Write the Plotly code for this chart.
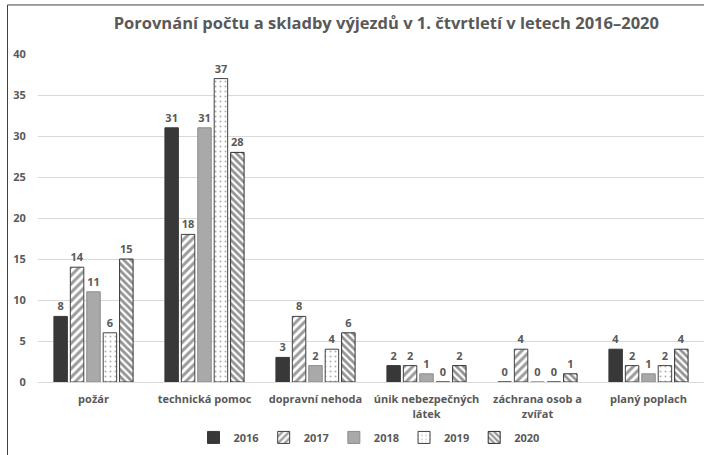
import plotly.graph_objects as go

categories = ["požár", "technická pomoc", "dopravní nehoda", "únik nebezpečných<br>látek",
              "záchrana osob a<br>zvířat", "planý poplach"]
years = ["2016", "2017", "2018", "2019", "2020"]
v2016 = [8, 31, 3, 2, 0, 4]
v2017 = [14, 18, 8, 2, 4, 2]
v2018 = [11, 31, 2, 1, 0, 1]
v2019 = [6, 37, 4, 0, 0, 2]
v2020 = [15, 28, 6, 2, 1, 4]
series = [v2016, v2017, v2018, v2019, v2020]
y_ticks = [0, 5, 10, 15, 20, 25, 30, 35, 40]

styles = [
    dict(color="#383838", line="#383838", pattern=dict(shape="")),
    dict(color="white", line="#404040", pattern=dict(shape="/", fgcolor="#3a3a3a", bgcolor="white", size=6, solidity=0.5)),
    dict(color="#a9a9a9", line="#8c8c8c", pattern=dict(shape="")),
    dict(color="white", line="#404040", pattern=dict(shape=".", fgcolor="#606060", bgcolor="white", size=5, solidity=0.12)),
    dict(color="white", line="#303030", pattern=dict(shape="\\", fgcolor="#2a2a2a", bgcolor="white", size=5, solidity=0.55)),
]

fig = go.Figure()
for name, vals, st in zip(years, series, styles):
    fig.add_trace(go.Bar(
        x=categories, y=vals, name=name,
        marker=dict(color=st["color"], pattern=st["pattern"],
                    line=dict(color=st["line"], width=1)),
        text=[str(v) for v in vals], textposition="outside",
        textfont=dict(family="Open Sans", size=11, color="#595959", weight="bold"),
        cliponaxis=False,
    ))

border = dict(color="#404040", width=1)
fig.update_layout(
    width=704, height=455,
    margin=dict(l=37.5, r=0, t=54, b=73.3, autoexpand=False),
    paper_bgcolor="white", plot_bgcolor="white",
    barmode="group", bargap=0.26, bargroupgap=0.18,
    font=dict(family="Open Sans", color="#595959"),
    title=dict(text="<b>Porovnání počtu a skladby výjezdů v 1. čtvrtletí v letech 2016–2020</b>",
               x=0.523, xref="paper", xanchor="center", y=0.95, yanchor="middle",
               font=dict(size=16.5, color="#595959", family="Open Sans")),
    showlegend=True,
    legend=dict(orientation="h", x=0.497, xanchor="center", y=-0.169, yanchor="middle",
                font=dict(size=11, color="#595959", weight="bold"),
                itemwidth=30, tracegroupgap=0),
    yaxis=dict(range=[0, 40], tickvals=y_ticks, showgrid=True, gridcolor="#d9d9d9",
               gridwidth=1, zeroline=False, showline=False, automargin=False,
               ticks="outside", ticklen=9, tickcolor="rgba(0,0,0,0)",
               tickfont=dict(size=11, color="#595959", weight="bold")),
    xaxis=dict(showline=True, linecolor="#d9d9d9", linewidth=1, automargin=False,
               ticks="outside", ticklen=7, tickcolor="rgba(0,0,0,0)",
               tickfont=dict(size=11, color="#595959", weight="bold")),
    shapes=[
        dict(type="line", xref="paper", yref="paper", x0=-0.0458, x1=-0.0458,
             y0=-0.5, y1=1.1495, line=border, layer="above"),
        dict(type="line", xref="paper", yref="paper", x0=-0.0458, x1=1.2,
             y0=1.1495, y1=1.1495, line=border, layer="above"),
    ],
)

fig.write_html(
    "out.html",
    config={"displayModeBar": False},
    post_script="document.body.style.margin='0';document.body.style.overflow='hidden';",
)
